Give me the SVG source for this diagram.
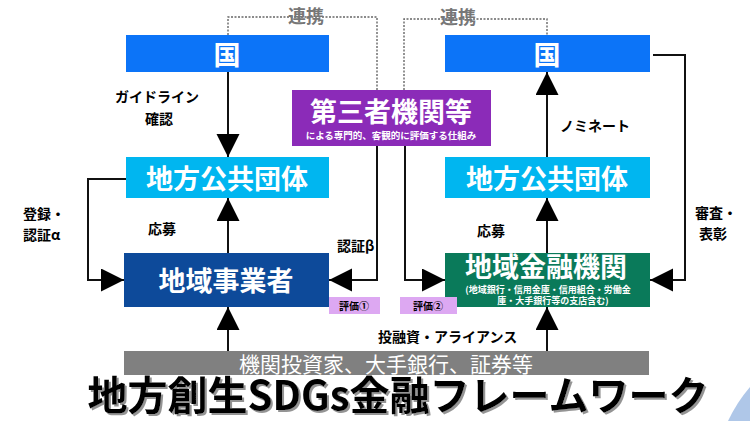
<svg xmlns="http://www.w3.org/2000/svg" width="750" height="421" viewBox="0 0 750 421">
<defs>
<style>
text{font-family:"Noto Sans CJK JP","Noto Sans CJK SC",sans-serif;}
.bt{fill:#fff;font-weight:bold;font-size:27px;text-anchor:middle;dominant-baseline:central;}
.lb{fill:#000;font-weight:bold;font-size:14px;dominant-baseline:central;}
.ln{fill:none;stroke:#111;stroke-width:2;}
.dl{fill:none;stroke:#666;stroke-width:1.4;stroke-dasharray:2 1.5;}
.rel{fill:#777;font-weight:bold;font-size:18px;text-anchor:middle;dominant-baseline:central;}
.ev{fill:#DDA8F2;}
.evt{fill:#000;font-size:10px;font-weight:bold;text-anchor:middle;dominant-baseline:central;}
.sub{fill:#fff;font-size:9px;font-weight:bold;text-anchor:middle;}
</style>
<filter id="sh" x="-5%" y="-20%" width="110%" height="140%">
<feDropShadow dx="2" dy="2" stdDeviation="0.6" flood-color="#888" flood-opacity="0.9"/>
</filter>
<marker id="ah" markerUnits="userSpaceOnUse" markerWidth="24" markerHeight="24" refX="23" refY="11.5" orient="auto" viewBox="0 0 24 24">
<path d="M0,0 L23,11.5 L0,23 Z" fill="#000"/>
</marker>
</defs>
<rect width="750" height="421" fill="#fff"/>
<path d="M728,421 Q737,402 750,387 L750,421 Z" fill="#AFC7E8"/>

<g id="connectors">
<path class="dl" d="M228,35 V17 H377 V90"/>
<path class="dl" d="M404,90 V19 H547 V35"/>
<line class="ln" x1="228" y1="72" x2="228" y2="157" marker-end="url(#ah)"/>
<line class="ln" x1="228" y1="253" x2="228" y2="198" marker-end="url(#ah)"/>
<line class="ln" x1="228" y1="351" x2="228" y2="307" marker-end="url(#ah)"/>
<line class="ln" x1="547" y1="157" x2="547" y2="72" marker-end="url(#ah)"/>
<line class="ln" x1="547" y1="253" x2="547" y2="198" marker-end="url(#ah)"/>
<line class="ln" x1="547" y1="351" x2="547" y2="307" marker-end="url(#ah)"/>
<path class="ln" d="M126,179 H88 V280 H124" marker-end="url(#ah)"/>
<path class="ln" d="M653,55 H685 V280 H650" marker-end="url(#ah)"/>
<path class="ln" d="M377,146 V280 H329" marker-end="url(#ah)"/>
<path class="ln" d="M405,146 V280 H445" marker-end="url(#ah)"/>
<text class="rel" x="306" y="15">連携</text>
<text class="rel" x="458" y="16">連携</text>
<text class="lb" x="157" y="96" text-anchor="middle">ガイドライン</text>
<text class="lb" x="159" y="118" text-anchor="middle">確認</text>
<text class="lb" x="560" y="125">ノミネート</text>
<text class="lb" x="148" y="228">応募</text>
<text class="lb" x="477" y="230">応募</text>
<text class="lb" x="23" y="213">登録・</text>
<text class="lb" x="23" y="234">認証α</text>
<text class="lb" x="695" y="212">審査・</text>
<text class="lb" x="699" y="233">表彰</text>
<text class="lb" x="337" y="245">認証β</text>
<text class="lb" x="378" y="336" font-size="15">投融資・アライアンス</text>
</g>

<g id="kuni-left">
<rect x="126" y="35" width="203" height="37" fill="#0C74F8"/>
<text class="bt" x="227" y="53">国</text>
</g>
<g id="kuni-right">
<rect x="445" y="35" width="205" height="37" fill="#0C74F8"/>
<text class="bt" x="547" y="53">国</text>
</g>
<g id="chiho-left">
<rect x="126" y="157" width="203" height="41" fill="#00B6F0"/>
<text class="bt" x="227" y="177">地方公共団体</text>
</g>
<g id="chiho-right">
<rect x="445" y="157" width="205" height="41" fill="#00B6F0"/>
<text class="bt" x="547" y="177">地方公共団体</text>
</g>
<g id="daisansha">
<rect x="292" y="90" width="199" height="56" fill="#8B2BB8"/>
<text class="bt" x="391" y="110" font-size="26">第三者機関等</text>
<text x="391" y="135" fill="#fff" font-size="9.5" font-weight="bold" text-anchor="middle" dominant-baseline="central">による専門的、客観的に評価する仕組み</text>
</g>
<g id="jigyosha">
<rect x="124" y="253" width="205" height="54" fill="#0D4A9A"/>
<text class="bt" x="226" y="279">地域事業者</text>
</g>
<g id="kinyu">
<rect x="445" y="253" width="205" height="54" fill="#0A7A5A"/>
<text class="bt" x="546" y="265" font-size="25">地域金融機関</text>
<text class="sub"><tspan x="548" y="293">(地域銀行・信用金庫・信用組合・労働金</tspan><tspan x="553" y="304">庫・大手銀行等の支店含む)</tspan></text>
</g>
<g id="hyoka1">
<rect class="ev" x="329" y="297" width="51" height="17"/>
<text class="evt" x="354" y="305">評価①</text>
</g>
<g id="hyoka2">
<rect class="ev" x="400" y="297" width="57" height="17"/>
<text class="evt" x="428" y="305">評価②</text>
</g>
<g id="investors">
<rect x="124" y="351" width="525" height="24" fill="#808080"/>
<text x="386" y="363" fill="#fff" font-size="21" text-anchor="middle" dominant-baseline="central">機関投資家、大手銀行、証券等</text>
</g>
<g id="title">
<text x="398" y="410" fill="#000" font-size="40" font-weight="bold" text-anchor="middle" filter="url(#sh)">地方創生SDGs金融フレームワーク</text>
</g>
</svg>
